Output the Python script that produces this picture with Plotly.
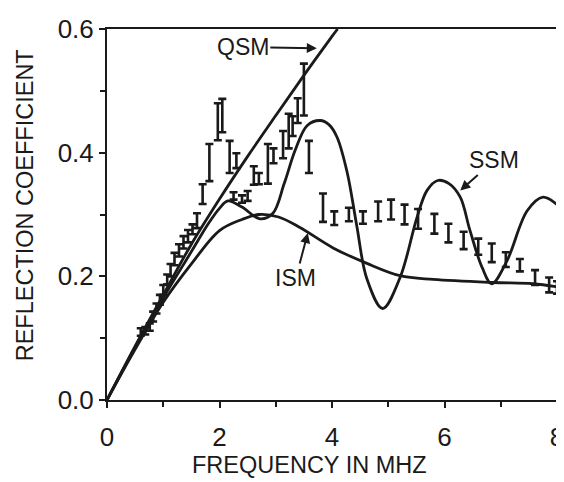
import plotly.graph_objects as go

# QSM curve
qsm_x = [0, 0.5, 1, 1.5, 2, 2.5, 3, 3.5, 4, 4.1]
qsm_y = [0, 0.087, 0.17, 0.252, 0.325, 0.394, 0.46, 0.525, 0.588, 0.6]

# SSM curve
ssm_x = [0, 0.5, 1, 1.5, 1.8, 2.0, 2.15, 2.4, 2.72, 2.95, 3.15, 3.35, 3.56, 3.79, 3.95, 4.09, 4.27,
         4.44, 4.62, 4.9, 5.21, 5.51, 5.69, 5.88, 6.08, 6.28, 6.45, 6.67, 6.84, 7.11, 7.47, 7.75, 8.0]
ssm_y = [0, 0.085, 0.165, 0.24, 0.285, 0.31, 0.322, 0.312, 0.293, 0.302, 0.35, 0.405, 0.444, 0.452,
         0.445, 0.425, 0.368, 0.282, 0.196, 0.148, 0.198, 0.295, 0.339, 0.355, 0.35, 0.328, 0.275,
         0.214, 0.188, 0.225, 0.306, 0.328, 0.316]

# ISM curve
ism_x = [0, 0.5, 1, 1.5, 2, 2.4, 2.7, 3.05, 3.43, 4.02, 4.62, 5.21, 5.8, 6.86, 7.57, 8.0]
ism_y = [0, 0.082, 0.158, 0.22, 0.274, 0.292, 0.3, 0.296, 0.279, 0.246, 0.221, 0.201, 0.195,
         0.19, 0.188, 0.183]

# Measured data with error bars
exp_x = [0.6, 0.68, 0.76, 0.82, 0.88, 0.94, 1.0, 1.07, 1.13, 1.2, 1.28, 1.36, 1.44, 1.52, 1.6,
         1.7, 1.82, 1.97, 2.05, 2.18, 2.25, 2.3, 2.4, 2.5, 2.61, 2.7, 2.86, 2.96, 3.13, 3.23,
         3.3, 3.39, 3.5, 3.59, 3.84, 4.04, 4.3, 4.55, 4.82, 5.05, 5.29, 5.53, 5.82, 6.07, 6.34,
         6.6, 6.84, 7.09, 7.34, 7.61, 7.86, 8.0]
exp_y = [0.11, 0.112, 0.118, 0.135, 0.148, 0.162, 0.178, 0.195, 0.21, 0.228, 0.242, 0.255, 0.265,
         0.276, 0.29, 0.333, 0.384, 0.45, 0.46, 0.393, 0.33, 0.387, 0.325, 0.33, 0.363, 0.358,
         0.382, 0.395, 0.413, 0.435, 0.443, 0.468, 0.502, 0.393, 0.311, 0.294, 0.30, 0.295,
         0.305, 0.308, 0.30, 0.293, 0.285, 0.27, 0.258, 0.248, 0.238, 0.227, 0.218, 0.198,
         0.186, 0.182]
exp_err = [0.006, 0.006, 0.006, 0.008, 0.008, 0.008, 0.008, 0.008, 0.01, 0.01, 0.01, 0.01, 0.01,
           0.008, 0.012, 0.016, 0.03, 0.03, 0.027, 0.026, 0.006, 0.012, 0.006, 0.008, 0.015,
           0.009, 0.032, 0.012, 0.022, 0.028, 0.016, 0.02, 0.042, 0.026, 0.023, 0.011, 0.011,
           0.01, 0.016, 0.016, 0.016, 0.016, 0.016, 0.015, 0.014, 0.013, 0.015, 0.012, 0.01,
           0.012, 0.012, 0.01]

x_ticks = [0, 2, 4, 6, 8]
y_ticks = [0, 0.2, 0.4, 0.6]
y_ticktext = ["0.0", "0.2", "0.4", "0.6"]

ink = "#1a1a1a"
fig = go.Figure()
for xs, ys in [(qsm_x, qsm_y), (ssm_x, ssm_y), (ism_x, ism_y)]:
    fig.add_trace(go.Scatter(x=xs, y=ys, mode="lines",
                             line=dict(color=ink, width=2.8, shape="spline", smoothing=1.0),
                             showlegend=False, hoverinfo="skip"))

fig.add_trace(go.Scatter(x=exp_x, y=exp_y, mode="markers",
                         marker=dict(size=1, color="rgba(0,0,0,0)"),
                         error_y=dict(type="data", array=exp_err, width=4, thickness=2.6, color=ink),
                         showlegend=False))

font_main = "Liberation Sans, Arial, sans-serif"
# page body adds an 8 px offset; plot area spans x 107..557, y 29..400 in the window
fig.update_layout(
    width=556, height=474,
    margin=dict(l=99, r=7, t=21, b=82),
    paper_bgcolor="white", plot_bgcolor="white",
    font=dict(family=font_main, color=ink),
    xaxis=dict(range=[0, 8], tickvals=x_ticks, ticks="outside", ticklen=6, tickwidth=2,
               tickcolor=ink, showline=True, linewidth=2, linecolor=ink, mirror=True,
               showgrid=False, zeroline=False, automargin=False, ticklabelstandoff=7,
               ticklabeloverflow="allow",
               minor=dict(dtick=1, ticks="outside", ticklen=5, tickwidth=2, tickcolor=ink),
               tickfont=dict(size=26, family=font_main)),
    yaxis=dict(range=[0, 0.6], tickvals=y_ticks, ticktext=y_ticktext, ticks="outside", ticklen=6,
               tickwidth=2, tickcolor=ink, showline=True, linewidth=2, linecolor=ink, mirror=True,
               showgrid=False, zeroline=False, automargin=False,
               minor=dict(dtick=0.1, ticks="outside", ticklen=5, tickwidth=2, tickcolor=ink),
               tickfont=dict(size=26, family=font_main)),
    annotations=[
        dict(x=0.45, y=-0.175, xref="paper", yref="paper", text="FREQUENCY IN MHZ",
             showarrow=False, xanchor="center", yanchor="middle",
             font=dict(size=23.5, family=font_main, color=ink)),
        dict(x=-0.182, y=0.525, xref="paper", yref="paper", text="REFLECTION COEFFICIENT",
             showarrow=False, textangle=-90, xanchor="center", yanchor="middle",
             font=dict(size=23.5, family=font_main, color=ink)),
        dict(x=3.73, y=0.569, xref="x", yref="y", text="QSM", showarrow=True, arrowhead=2,
             arrowsize=1, arrowwidth=2, arrowcolor=ink, ax=-74, ay=-1,
             font=dict(size=23, family=font_main, color=ink)),
        dict(x=6.28, y=0.339, xref="x", yref="y", text="SSM", showarrow=True, arrowhead=2,
             arrowsize=1, arrowwidth=2, arrowcolor=ink, ax=34, ay=-30,
             font=dict(size=23, family=font_main, color=ink)),
        dict(x=3.57, y=0.27, xref="x", yref="y", text="ISM", showarrow=True, arrowhead=2,
             arrowsize=1, arrowwidth=2, arrowcolor=ink, ax=-12, ay=45,
             font=dict(size=23, family=font_main, color=ink)),
    ],
)

fig.write_html("out.html")
